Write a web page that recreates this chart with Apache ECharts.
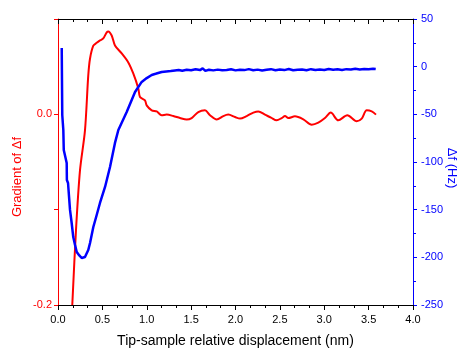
<!DOCTYPE html>
<html>
<head>
<meta charset="utf-8">
<script src="https://cdn.jsdelivr.net/npm/echarts@6/dist/echarts.min.js"></script>
<style>
html,body{margin:0;padding:0;background:#fff;}
#c{width:459px;height:349px;}
</style>
</head>
<body>
<div id="c"></div>
<script>
// X axis ticks
var xTicks = [0.0, 0.5, 1.0, 1.5, 2.0, 2.5, 3.0, 3.5, 4.0];
var leftLabels = ['-0.2', '0.0'];
var rightTicks = [-250, -200, -150, -100, -50, 0, 50];

// Gradient of Δf (red, left axis)
var redX = [0.161, 0.203, 0.248, 0.304, 0.341, 0.361, 0.398, 0.436, 0.473, 0.51, 0.549, 0.567, 0.605, 0.642, 0.718, 0.792, 0.848, 0.905, 0.924, 0.98, 0.999, 1.056, 1.112, 1.168, 1.225, 1.299, 1.375, 1.45, 1.506, 1.581, 1.656, 1.713, 1.788, 1.863, 1.919, 1.994, 2.051, 2.126, 2.201, 2.257, 2.332, 2.4, 2.464, 2.521, 2.558, 2.595, 2.67, 2.764, 2.859, 2.933, 3.008, 3.073, 3.158, 3.26, 3.366, 3.422, 3.478, 3.535, 3.583];
var redY = [-0.2, -0.121, -0.0586, -0.0168, 0.0408, 0.0586, 0.072, 0.075, 0.0775, 0.0796, 0.086, 0.087, 0.0827, 0.0723, 0.0639, 0.0545, 0.0429, 0.0272, 0.0181, 0.0147, 0.0094, 0.0042, 0.0031, -0.001, -0.0003, -0.0018, -0.0039, -0.0055, -0.0039, 0.0024, 0.0042, -0.001, -0.0055, -0.0018, -0.0003, -0.0028, -0.0045, -0.0018, 0.0018, 0.0031, -0.0003, -0.0035, -0.0063, -0.0039, -0.0018, -0.0039, -0.0021, -0.0052, -0.0108, -0.0087, -0.0039, 0.0018, -0.0063, -0.001, -0.0073, -0.0045, 0.0042, 0.0031, -0.0003];

// Δf (blue, right axis, Hz)
var blueX = [0.042, 0.048, 0.06, 0.065, 0.098, 0.1, 0.113, 0.135, 0.154, 0.172, 0.192, 0.211, 0.24, 0.267, 0.304, 0.341, 0.361, 0.398, 0.436, 0.473, 0.53, 0.586, 0.642, 0.68, 0.774, 0.868, 0.943, 1.0, 1.056, 1.1, 1.168, 1.22, 1.27, 1.318, 1.36, 1.4, 1.45, 1.5, 1.55, 1.6, 1.63, 1.66, 1.7, 1.75, 1.8, 1.85, 1.9, 1.95, 2.0, 2.05, 2.1, 2.15, 2.2, 2.25, 2.3, 2.35, 2.4, 2.45, 2.5, 2.55, 2.6, 2.65, 2.7, 2.75, 2.8, 2.85, 2.9, 2.95, 3.0, 3.05, 3.1, 3.15, 3.2, 3.25, 3.3, 3.35, 3.4, 3.45, 3.5, 3.55, 3.58];
var blueY = [19.6, -50.7, -66.4, -87.4, -101, -118.9, -122, -150, -164, -178.7, -187, -194.4, -198, -200.7, -199.7, -192.3, -185, -168.2, -155.6, -143, -126.2, -105.2, -80, -66.4, -47.6, -26.6, -16, -12, -8.7, -7.5, -5.6, -5, -4.6, -4, -3.5, -4.2, -3.2, -3.8, -2.8, -3.6, -1.8, -4.4, -3.3, -3.9, -3.1, -3.7, -3.4, -2.7, -3.9, -3.2, -3.6, -2.6, -3.8, -3.1, -4.0, -3.3, -2.6, -3.7, -3.0, -3.6, -2.5, -3.8, -3.2, -2.9, -3.7, -2.6, -3.4, -3.0, -3.5, -2.4, -3.2, -2.8, -3.5, -2.6, -3.0, -2.2, -2.9, -2.4, -2.8, -2.1, -2.4];

function zip(a, b) { return a.map(function (v, i) { return [v, b[i]]; }); }

var FONT = 'Liberation Sans';
var chart = echarts.init(document.getElementById('c'), null, { renderer: 'canvas' });
chart.setOption({
  animation: false,
  backgroundColor: '#fff',
  grid: { left: 58, right: 46, top: 19, bottom: 44, containLabel: false, outerBoundsMode: 'none' },
  graphic: [{
    type: 'text', x: 452, y: 168, rotation: -Math.PI / 2, silent: true,
    style: { text: '\u0394f (Hz)', fill: '#0000ff', fontSize: 13, fontFamily: FONT, align: 'center', verticalAlign: 'middle' }
  }, {
    type: 'text', x: 17, y: 177, rotation: Math.PI / 2, silent: true,
    style: { text: 'Gradient of \u0394f', fill: '#ff0000', fontSize: 13, fontFamily: FONT, align: 'center', verticalAlign: 'middle' }
  }],
  xAxis: [{
    type: 'value', position: 'bottom', min: xTicks[0], max: xTicks[xTicks.length - 1], interval: 0.5,
    name: 'Tip-sample relative displacement (nm)', nameLocation: 'middle', nameGap: 29,
    nameTextStyle: { color: '#000', fontSize: 14, fontFamily: FONT },
    axisLine: { show: true, onZero: false, lineStyle: { color: '#000', width: 1 } },
    axisTick: { show: true, inside: false, length: 5, lineStyle: { color: '#000' } },
    minorTick: { show: true, splitNumber: 3, length: 3, lineStyle: { color: '#000' } },
    axisLabel: { color: '#000', fontSize: 11, fontFamily: FONT, margin: 9, formatter: function (v) { return v.toFixed(1); } },
    splitLine: { show: false }
  }, {
    type: 'value', position: 'top', min: 0, max: 4, interval: 0.5,
    axisLine: { show: true, onZero: false, lineStyle: { color: '#000', width: 1 } },
    axisTick: { show: true, inside: true, length: 5, lineStyle: { color: '#000' } },
    minorTick: { show: true, splitNumber: 3, length: 3, lineStyle: { color: '#000' } },
    axisLabel: { show: false },
    splitLine: { show: false }
  }],
  yAxis: [{
    type: 'value', position: 'left', min: -0.2, max: 0.1, interval: 0.1,
    axisLine: { show: true, onZero: false, lineStyle: { color: '#ff0000', width: 1 } },
    axisTick: { show: true, inside: false, length: 4, lineStyle: { color: '#ff0000' } },
    axisLabel: { color: '#ff0000', fontSize: 11, fontFamily: FONT, margin: 6,
      formatter: function (v) { var s = v.toFixed(1); if (s === '-0.0') s = '0.0'; return leftLabels.indexOf(s) >= 0 ? s : ''; } },
    splitLine: { show: false }
  }, {
    type: 'value', position: 'right', min: rightTicks[0], max: rightTicks[rightTicks.length - 1], interval: 50,
    axisLine: { show: true, onZero: false, lineStyle: { color: '#0000ff', width: 1 } },
    axisTick: { show: true, inside: false, length: 4, lineStyle: { color: '#0000ff' } },
    minorTick: { show: true, splitNumber: 2, length: 3, lineStyle: { color: '#0000ff' } },
    axisLabel: { color: '#0000ff', fontSize: 11, fontFamily: FONT, margin: 8 },
    splitLine: { show: false }
  }],
  series: [{
    type: 'line', xAxisIndex: 0, yAxisIndex: 0, data: zip(redX, redY),
    showSymbol: false, smooth: 0.3, clip: true,
    lineStyle: { color: '#ff0000', width: 2 }
  }, {
    type: 'line', xAxisIndex: 0, yAxisIndex: 1, data: zip(blueX, blueY),
    showSymbol: false, smooth: false, clip: true,
    lineStyle: { color: '#0000ff', width: 2.5 }
  }]
});
</script>
</body>
</html>
